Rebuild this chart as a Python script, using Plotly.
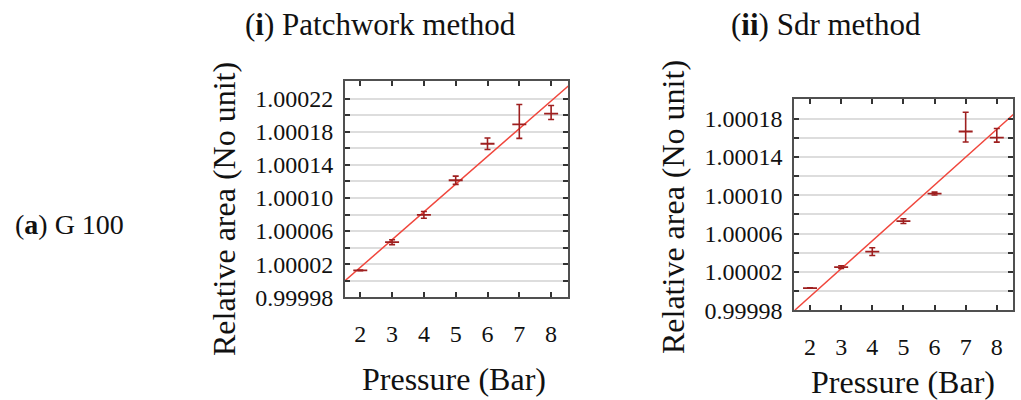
import numpy as np
import plotly.graph_objects as go

# ---------------- data ----------------
pressure = [2, 3, 4, 5, 6, 7, 8]
pressure_labels = ["2", "3", "4", "5", "6", "7", "8"]

# (i) Patchwork method
patch_mean = [1.0000126, 1.0000466, 1.0000796, 1.0001214, 1.0001655, 1.000189, 1.0002018]
patch_err_plus = [0.0000004, 0.000003, 0.000004, 0.000005, 0.000007, 0.000024, 0.000010]
patch_err_minus = [0.0000004, 0.000003, 0.000004, 0.000005, 0.000007, 0.000017, 0.000007]
patch_ytick_vals = [0.99998, 1.00002, 1.00006, 1.00010, 1.00014, 1.00018, 1.00022]
patch_ytick_text = ["0.99998", "1.00002", "1.00006", "1.00010", "1.00014", "1.00018", "1.00022"]
patch_yminor_vals = [1.00000, 1.00004, 1.00008, 1.00012, 1.00016, 1.00020, 1.00024]

# (ii) Sdr method
sdr_mean = [1.0000032, 1.000025, 1.0000412, 1.000073, 1.0001017, 1.0001665, 1.0001601]
sdr_err_plus = [0.0000003, 0.0000015, 0.000004, 0.0000025, 0.0000015, 0.000020, 0.0000095]
sdr_err_minus = [0.0000003, 0.0000015, 0.000004, 0.0000025, 0.0000015, 0.000011, 0.0000047]
sdr_ytick_vals = [0.99998, 1.00002, 1.00006, 1.00010, 1.00014, 1.00018]
sdr_ytick_text = ["0.99998", "1.00002", "1.00006", "1.00010", "1.00014", "1.00018"]
sdr_yminor_vals = [1.00000, 1.00004, 1.00008, 1.00012, 1.00016, 1.00020]

# ---------------- style ----------------
W, H = 1021, 400
SERIF = "Liberation Serif"
FIT_COLOR = "#f0463c"
BAR_COLOR = "#9e1f1f"
GRID = "#dddddd"
FRAME = "#505050"

panels = [
    dict(mean=patch_mean, ep=patch_err_plus, em=patch_err_minus,
         yv=patch_ytick_vals, yt=patch_ytick_text, ym=patch_yminor_vals,
         xr=[1.52, 8.54], yr=[0.99998, 1.000241],
         xdom=[345 / W, 568.3 / W], ydom=[1 - 307.3 / H, 1 - 84 / H]),
    dict(mean=sdr_mean, ep=sdr_err_plus, em=sdr_err_minus,
         yv=sdr_ytick_vals, yt=sdr_ytick_text, ym=sdr_yminor_vals,
         xr=[1.495, 8.53], yr=[0.99998, 1.0002],
         xdom=[794.3 / W, 1013.3 / W], ydom=[1 - 320.7 / H, 1 - 102.7 / H]),
]

fig = go.Figure()
layout = dict(
    width=W, height=H, margin=dict(l=0, r=0, t=0, b=0),
    paper_bgcolor="white", plot_bgcolor="white", showlegend=False,
    font=dict(family=SERIF, color="#111111"),
)

for i, p in enumerate(panels, start=1):
    xa = "x" if i == 1 else f"x{i}"
    ya = "y" if i == 1 else f"y{i}"
    # linear fit through means
    slope, intercept = np.polyfit(pressure, p["mean"], 1)
    xs = np.linspace(p["xr"][0], p["xr"][1], 50)
    fig.add_trace(go.Scatter(x=xs, y=intercept + slope * xs, mode="lines",
                             line=dict(color=FIT_COLOR, width=1.5),
                             xaxis=xa, yaxis=ya, hoverinfo="skip"))
    fig.add_trace(go.Scatter(
        x=pressure, y=p["mean"], mode="markers",
        marker=dict(symbol="line-ew", size=10, color=BAR_COLOR,
                    line=dict(color=BAR_COLOR, width=1.8)),
        error_y=dict(type="data", symmetric=False, array=p["ep"], arrayminus=p["em"],
                     color=BAR_COLOR, thickness=1.6, width=3),
        xaxis=xa, yaxis=ya))

    layout["xaxis" if i == 1 else f"xaxis{i}"] = dict(
        domain=p["xdom"], anchor=ya, range=p["xr"],
        tickmode="array", tickvals=pressure, ticktext=pressure_labels,
        ticks="inside", ticklen=5, tickwidth=1.5, tickcolor="#333333",
        showline=True, linecolor=FRAME, linewidth=2, mirror="ticks",
        showgrid=False, zeroline=False,
        tickfont=dict(family=SERIF, size=24, color="#111111"),
        ticklabelstandoff=14,
    )
    layout["yaxis" if i == 1 else f"yaxis{i}"] = dict(
        domain=p["ydom"], anchor=xa, range=p["yr"],
        tickmode="array", tickvals=p["yv"], ticktext=p["yt"],
        ticks="inside", ticklen=5, tickwidth=1.5, tickcolor="#333333",
        showline=True, linecolor=FRAME, linewidth=2, mirror="ticks",
        showgrid=True, gridcolor=GRID, gridwidth=2, zeroline=False,
        minor=dict(tickmode="array", tickvals=p["ym"], ticks="inside", ticklen=5,
                   tickwidth=1.5, tickcolor="#333333", showgrid=True,
                   gridcolor=GRID, gridwidth=2),
        tickfont=dict(family=SERIF, size=24, color="#111111"),
        ticklabelstandoff=5,
    )

annotations = [
    dict(text="(<b>i</b>) Patchwork method", x=380.8 / W, y=1 - 25 / H,
         font=dict(size=31)),
    dict(text="(<b>ii</b>) Sdr method", x=826 / W, y=1 - 25 / H,
         font=dict(size=31)),
    dict(text="(<b>a</b>) G 100", x=13 / W, y=1 - 232 / H, xanchor="left",
         font=dict(size=28)),
    dict(text="Relative area (No unit)", x=224 / W, y=1 - 216 / H, textangle=-90,
         font=dict(size=32)),
    dict(text="Relative area (No unit)", x=673 / W, y=1 - 214 / H, textangle=-90,
         font=dict(size=32)),
    dict(text="Pressure (Bar)", x=454 / W, y=1 - 392 / H, font=dict(size=32)),
    dict(text="Pressure (Bar)", x=903 / W, y=1 - 395 / H, font=dict(size=32)),
]
for a in annotations:
    a.setdefault("xanchor", "center")
    a.update(xref="paper", yref="paper", yanchor="middle", showarrow=False)
    a["font"].update(family=SERIF, color="#111111")
layout["annotations"] = annotations

fig.update_layout(**layout)
fig.write_html("out.html")
